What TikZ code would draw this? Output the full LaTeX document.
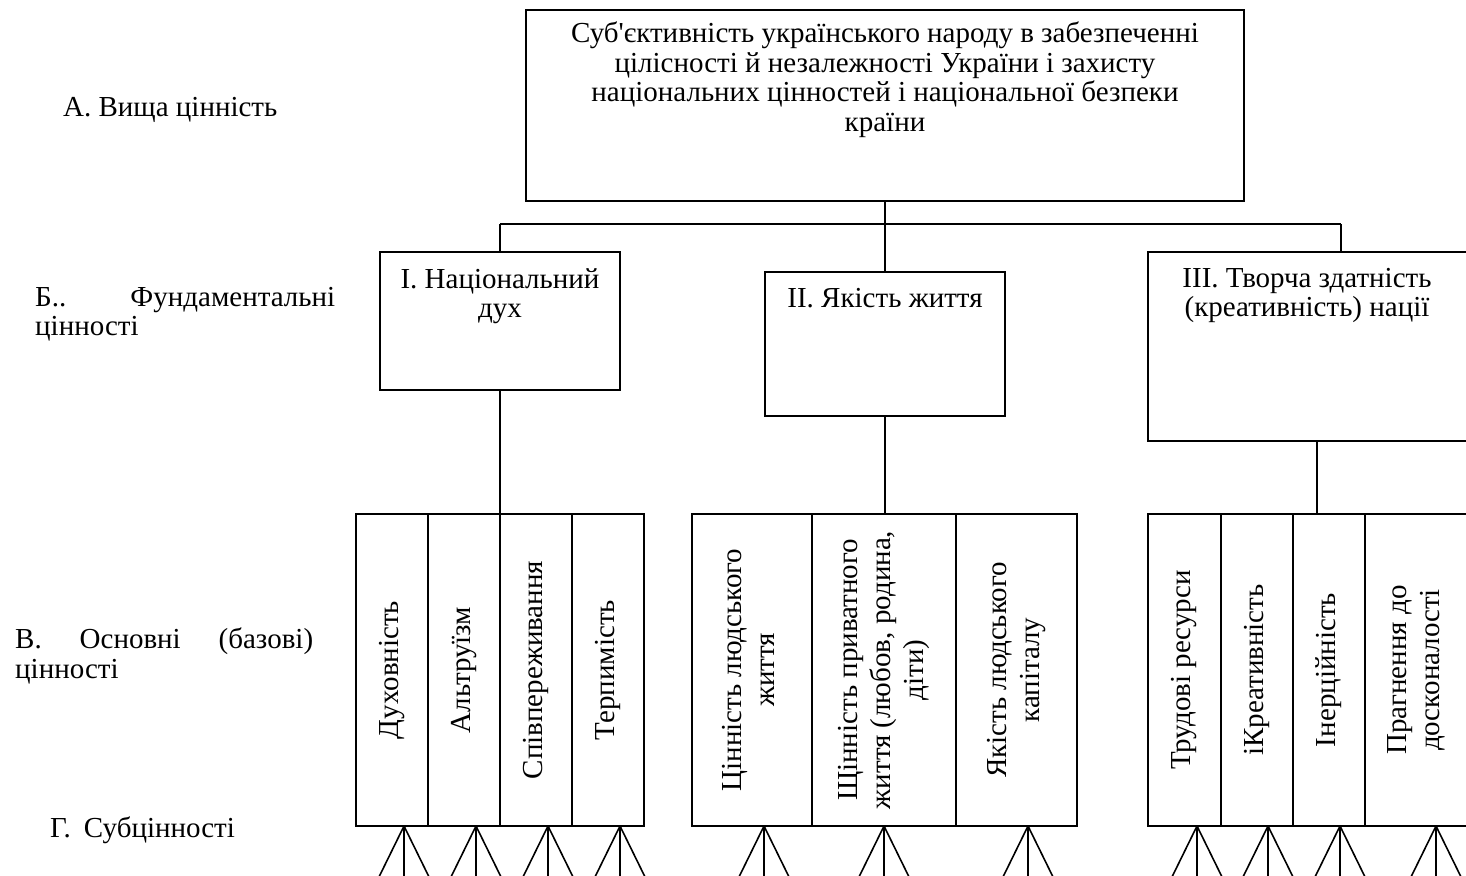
\documentclass[tikz,border=0pt]{standalone}
\usepackage{fontspec}
\setmainfont{Liberation Serif}
\newfontfamily\plainrm{Liberation Serif}
\newcommand{\apos}{{\plainrm\symbol{"27}}}
\begin{document}
\begin{tikzpicture}[x=1pt,y=-1pt,
  bx/.style={draw, line width=1.7pt, inner sep=0pt, outer sep=0pt, anchor=north west},
  lbl/.style={font=\fontsize{29}{29.5}\selectfont, inner sep=0pt, align=center},
  vlbl/.style={font=\fontsize{29}{33}\selectfont, inner sep=0pt, align=center, rotate=90},
  conn/.style={line width=1.6pt}]
\useasboundingbox (0,0) rectangle (1466,875);
\clip (0,0) rectangle (1466,875);

% level A
\node[bx, minimum width=718pt, minimum height=191pt] (top) at (526,10) {};
\node[lbl, anchor=north] (toptxt) at (885,22) {Суб\apos єктивність українського народу в забезпеченні\\цілісності й незалежності України і захисту\\національних цінностей і національної безпеки\\країни};

% level B
\node[bx, minimum width=240pt, minimum height=138pt] (b1) at (380,252) {};
\node[bx, minimum width=240pt, minimum height=144pt] (b2) at (765,272) {};
\node[bx, minimum width=340pt, minimum height=189pt] (b3) at (1148,252) {};
\node[lbl, anchor=north] (t1) at (500,268) {I. Національний\\дух};
\node[lbl, anchor=north] (t2) at (885,288) {II. Якість життя};
\node[lbl, anchor=north] (t3) at (1307,268) {III. Творча здатність\\(креативність) нації};

% connectors A -> B
\coordinate (bl) at (500,224);
\coordinate (br) at (1341,224);
\coordinate (b3d) at (1317,441);
\draw[conn] (top.south) -- (b2.north);
\draw[conn] (bl) -- (br);
\draw[conn] (bl) -- (b1.north);
\draw[conn] (br) -- (br |- b3.north);

% level C boxes
\node[bx, minimum width=72pt, minimum height=312pt] (g11) at (356,514) {};
\node[bx, minimum width=72pt, minimum height=312pt] (g12) at (428,514) {};
\node[bx, minimum width=72pt, minimum height=312pt] (g13) at (500,514) {};
\node[bx, minimum width=72pt, minimum height=312pt] (g14) at (572,514) {};
\node[bx, minimum width=120pt, minimum height=312pt] (g21) at (692,514) {};
\node[bx, minimum width=144pt, minimum height=312pt] (g22) at (812,514) {};
\node[bx, minimum width=121pt, minimum height=312pt] (g23) at (956,514) {};
\node[bx, minimum width=73pt, minimum height=312pt] (g31) at (1148,514) {};
\node[bx, minimum width=72pt, minimum height=312pt] (g32) at (1221,514) {};
\node[bx, minimum width=72pt, minimum height=312pt] (g33) at (1293,514) {};
\node[bx, minimum width=115pt, minimum height=312pt] (g34) at (1365,514) {};

% connectors B -> C
\draw[conn] (b1.south) -- (b1.south |- g13.north);
\draw[conn] (b2.south) -- (b2.south |- g22.north);
\draw[conn] (b3d) -- (b3d |- g33.north);

% vertical labels
\node[vlbl] at (g11.center) {Духовність};
\node[vlbl] at (g12.center) {Альтруїзм};
\node[vlbl] at (g13.center) {Співпереживання};
\node[vlbl] at (g14.center) {Терпимість};
\node[vlbl] at ([xshift=-4pt]g21.center) {Цінність людського\\життя};
\node[vlbl] at (g22.center) {Щінність приватного\\життя (любов, родина,\\діти)};
\node[vlbl] at (g23.center) {Якість людського\\капіталу};
\node[vlbl] at (g31.center) {Трудові ресурси};
\node[vlbl] at (g32.center) {іКреативність};
\node[vlbl] at (g33.center) {Інерційність};
\node[vlbl] at (1416,670) {Прагнення до\\досконалості};

% fans (level D)
\foreach \ax in {404,476,548,620,764,884,1028,1197,1268,1340,1436} {
  \coordinate (f) at (\ax,826);
  \draw[conn] (f) -- ++(0,54);
  \draw[conn] (f) -- ++(-26.5,54);
  \draw[conn] (f) -- ++(26.5,54);
}

% left labels
\node[lbl, anchor=base west] (la) at (63,116) {А. Вища цінність};
\node[lbl, anchor=north west, text width=300pt, align=left] (lb) at (35,287) {Б..\hfill Фундаментальні\\цінності};
\node[lbl, anchor=north west, text width=298pt, align=left] (lv) at (15,628) {В.\hfill Основні\hfill (базові)\\цінності};
\node[lbl, anchor=west] (lg) at (50,830) {Г.\hspace{0.45em}Субцінності};
\end{tikzpicture}
\end{document}
